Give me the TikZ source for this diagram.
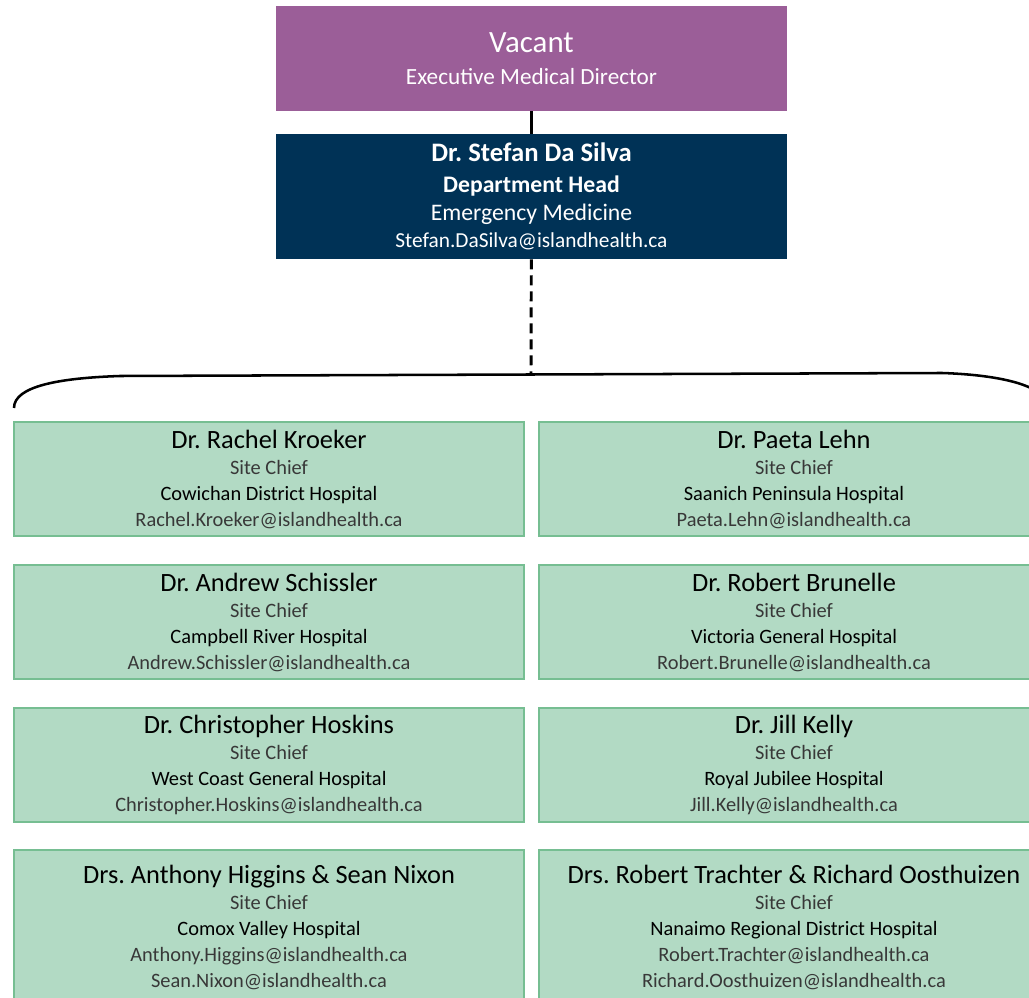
\documentclass[tikz,border=0pt]{standalone}
\usepackage{fontspec}
\setmainfont{Carlito}
\usetikzlibrary{positioning}
\definecolor{vacpurple}{RGB}{155,94,152}
\definecolor{headnavy}{RGB}{0,50,86}
\definecolor{chiefgreen}{RGB}{178,218,196}
\definecolor{chiefedge}{RGB}{118,190,146}
\newcommand{\namefont}{\fontsize{19.8}{21}\selectfont}
\newcommand{\lightfont}{\color{black!78}}
\frenchspacing

\begin{document}
\begin{tikzpicture}[x=0.75pt,y=-0.75pt]
  \tikzstyle{chief}=[rectangle, fill=chiefgreen, draw=chiefedge, line width=0.8pt,
minimum width=382.5pt, minimum height=85.5pt, align=center, inner sep=0pt,
font=\fontsize{15.3}{19.5}\selectfont]
  \tikzstyle{link}=[line width=2.2pt]
  \useasboundingbox (0,0) rectangle (1029,998);
  \clip (0,0) rectangle (1029,998);

  \node[fill=vacpurple, text=white, minimum width=383.25pt, minimum height=78.75pt,
align=center, font=\fontsize{17.4}{24}\selectfont] (vac) at (531.5,58.5)
  {{\fontsize{23.2}{24}\selectfont Vacant}\\Executive Medical Director};
  \node[fill=headnavy, text=white, minimum width=383.25pt, minimum height=93.75pt,
align=center, font=\fontsize{17.8}{20.5}\selectfont] (head) at (531.5,196.5)
  {{\bfseries\fontsize{20}{20.5}\selectfont Dr. Stefan Da Silva}\\[3pt]
   {\bfseries Department Head}\\
   Emergency Medicine\\
   {\fontsize{16}{20.5}\selectfont Stefan.DaSilva@islandhealth.ca}};

  \node[chief] (kroeker) at (269,479) {{\namefont Dr. Rachel Kroeker}\\
{\lightfont Site Chief}\\ Cowichan District Hospital\\ {\lightfont Rachel.Kroeker@islandhealth.ca}};
  \node[chief] (lehn) at (794,479) {{\namefont Dr. Paeta Lehn}\\
{\lightfont Site Chief}\\ Saanich Peninsula Hospital\\ {\lightfont Paeta.Lehn@islandhealth.ca}};
  \node[chief] (schissler) at (269,622) {{\namefont Dr. Andrew Schissler}\\
{\lightfont Site Chief}\\ Campbell River Hospital\\ {\lightfont Andrew.Schissler@islandhealth.ca}};
  \node[chief] (brunelle) at (794,622) {{\namefont Dr. Robert Brunelle}\\
{\lightfont Site Chief}\\ Victoria General Hospital\\ {\lightfont Robert.Brunelle@islandhealth.ca}};
  \node[chief] (hoskins) at (269,765) {{\namefont Dr. Christopher Hoskins}\\
{\lightfont Site Chief}\\ West Coast General Hospital\\ {\lightfont Christopher.Hoskins@islandhealth.ca}};
  \node[chief] (kelly) at (794,765) {{\namefont Dr. Jill Kelly}\\
{\lightfont Site Chief}\\ Royal Jubilee Hospital\\ {\lightfont Jill.Kelly@islandhealth.ca}};
  \node[chief, minimum height=115.5pt] (higgins) at (269,927) {{\namefont Drs. Anthony Higgins \& Sean Nixon}\\
{\lightfont Site Chief}\\ Comox Valley Hospital\\ {\lightfont Anthony.Higgins@islandhealth.ca}\\
{\lightfont Sean.Nixon@islandhealth.ca}};
  \node[chief, minimum height=115.5pt] (trachter) at (794,927) {{\namefont Drs. Robert Trachter \& Richard Oosthuizen}\\
{\lightfont Site Chief}\\ Nanaimo Regional District Hospital\\ {\lightfont Robert.Trachter@islandhealth.ca}\\
{\lightfont Richard.Oosthuizen@islandhealth.ca}};

  \coordinate (bracetop) at (531,375);
  \coordinate (braceleft) at (14,408);
  \coordinate (braceright) at (1048,408);

  \draw[link] (vac) -- (head);
  \draw[link, dash pattern=on 7.5pt off 4.5pt] (head) -- (bracetop);
  \draw[line width=1.9pt] (braceleft) .. controls (14,386) and (60,378) .. (120,376)
    -- (942,373) .. controls (1002,375) and (1048,386) .. (braceright);
\end{tikzpicture}
\end{document}
